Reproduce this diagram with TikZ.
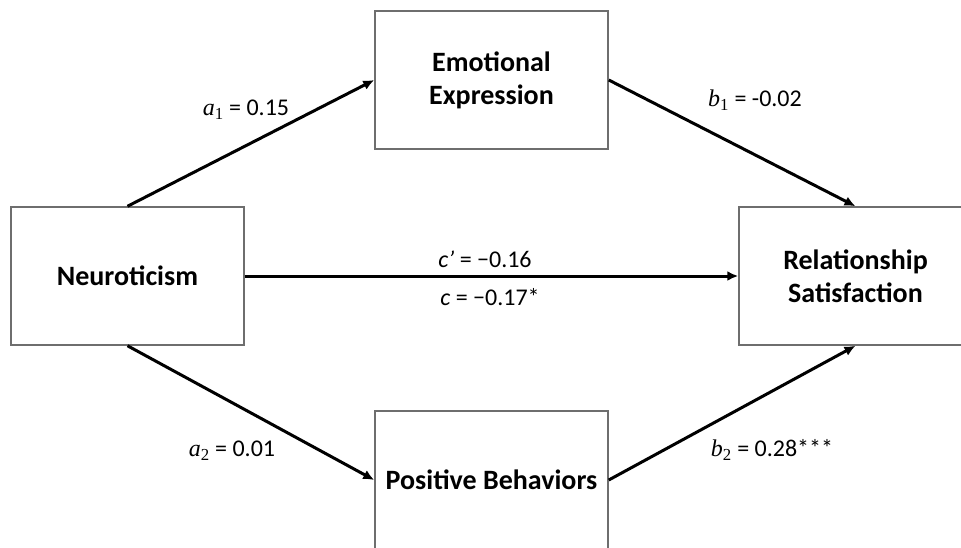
\documentclass[tikz,border=0pt]{standalone}
\usepackage{fontspec}
\setmainfont{Carlito}
\newfontfamily\varserif{Liberation Serif}
\usetikzlibrary{arrows.meta}
\definecolor{boxgray}{RGB}{110,110,110}
\newcommand{\coefvar}[2]{{\varserif\itshape #1}{\varserif\textsubscript{#2}}}
\tikzset{
  varbox/.style={draw=boxgray, line width=1.5pt, fill=white, minimum width=233pt, minimum height=138pt,
    align=center, font=\fontsize{28}{33}\selectfont\bfseries},
  coef/.style={font=\fontsize{24}{28}\selectfont, inner sep=0pt},
  arr/.style={-{Latex[length=11pt,width=10pt]}, line width=3pt}
}
\begin{document}
\begin{tikzpicture}[x=1pt,y=-1pt]
			\useasboundingbox (0,0) rectangle (961,547);
			\node[varbox] (neuro) at (127.5,276) {Neuroticism};
			\node[varbox] (emo) at (491.5,80) {Emotional\\Expression};
			\node[varbox] (rel) at (855.5,276) {Relationship\\Satisfaction};
			\node[varbox] (pos) at (491.5,480) {Positive Behaviors};
			\draw[arr] (neuro.north) -- (emo.west);
			\draw[arr] (emo.east) -- (rel.north);
			\draw[arr] (neuro.east) -- (rel.west);
			\draw[arr] (neuro.south) -- (pos.west);
			\draw[arr] (pos.east) -- (rel.south);
			\node[coef] (la1) at (246,110) {\coefvar{a}{1} = 0.15};
			\node[coef] (lb1) at (755,100) {\coefvar{b}{1} = -0.02};
			\node[coef] (lcp) at (485,259) {\textit{c’} = −0.16};
			\node[coef] (lc) at (490,297) {\textit{c} = −0.17*};
			\node[coef] (la2) at (232,451) {\coefvar{a}{2} = 0.01};
			\node[coef] (lb2) at (772,450) {\coefvar{b}{2} = 0.28***};
		\end{tikzpicture}
\end{document}
